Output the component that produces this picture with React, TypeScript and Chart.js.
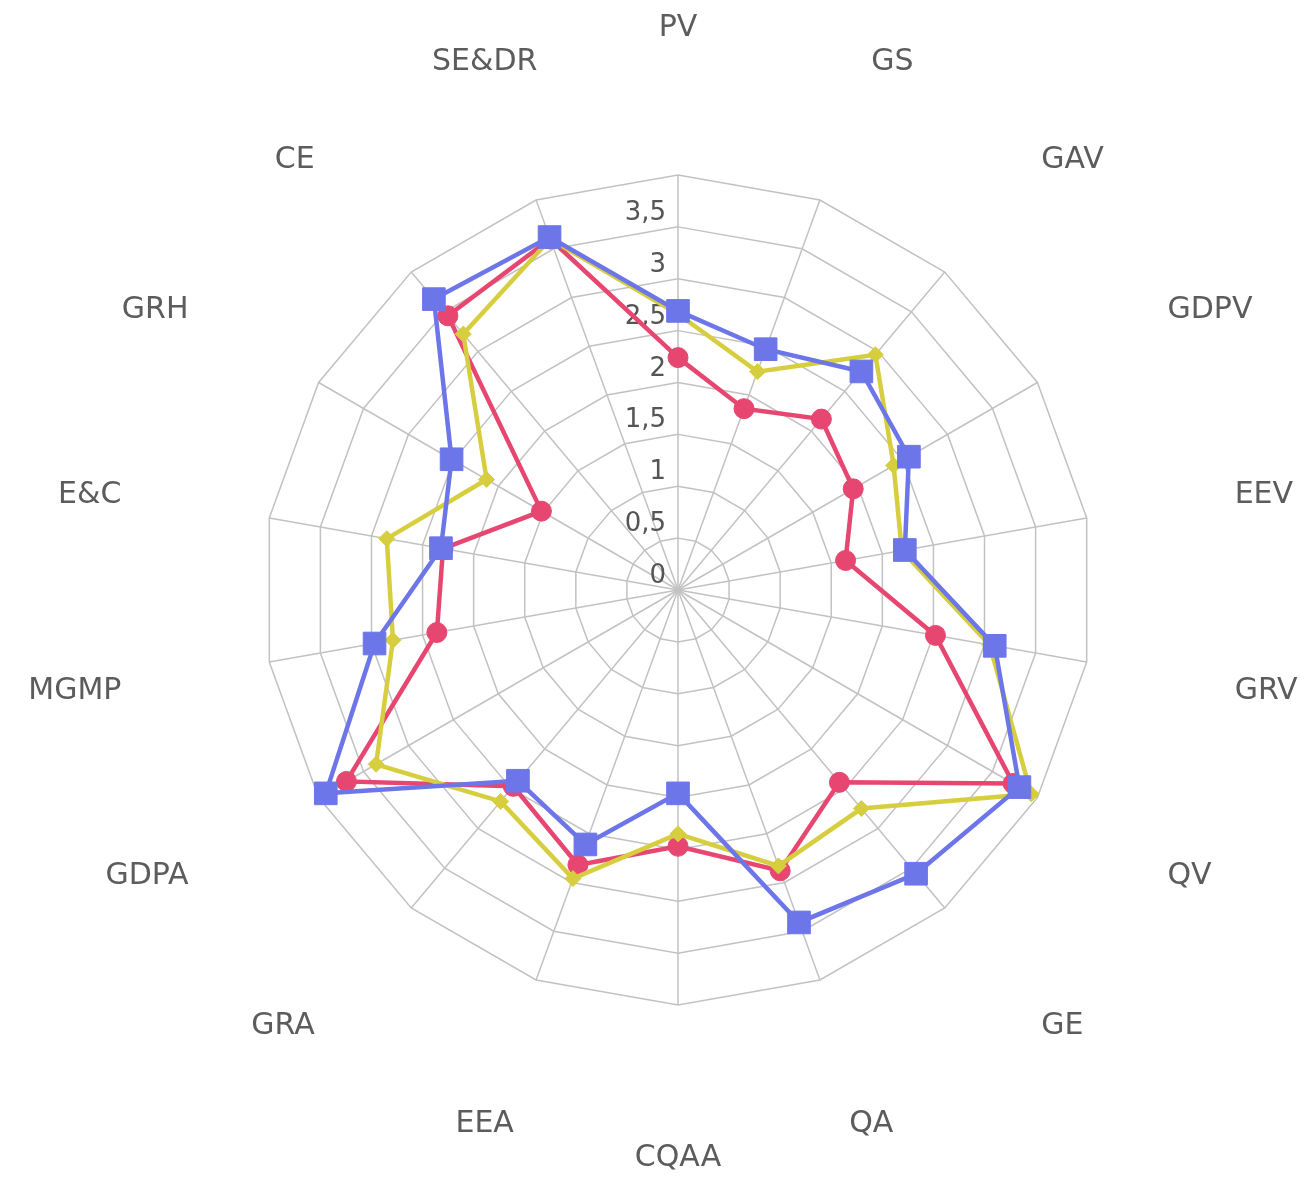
import React, { useEffect, useRef } from 'react';
import { Chart, registerables } from 'chart.js';

Chart.register(...registerables);

const categories = ['PV', 'GS', 'GAV', 'GDPV', 'EEV', 'GRV', 'QV', 'GE', 'QA', 'CQAA', 'EEA', 'GRA', 'GDPA', 'MGMP', 'E&C', 'GRH', 'CE', 'SE&DR'];

const seriesRed = [2.24, 1.86, 2.15, 1.95, 1.64, 2.52, 3.73, 2.42, 2.88, 2.47, 2.82, 2.47, 3.69, 2.36, 2.3, 1.52, 3.45, 3.6];
const seriesYellow = [2.66, 2.24, 2.96, 2.4, 2.19, 3.05, 3.93, 2.75, 2.83, 2.35, 2.96, 2.66, 3.36, 2.79, 2.85, 2.13, 3.22, 3.6];
const seriesBlue = [2.69, 2.47, 2.75, 2.57, 2.22, 3.1, 3.8, 3.57, 3.41, 1.96, 2.61, 2.4, 3.92, 2.97, 2.32, 2.52, 3.66, 3.62];

const tickValues = [0, 0.5, 1, 1.5, 2, 2.5, 3, 3.5];
const tickLabels = ['0', '0,5', '1', '1,5', '2', '2,5', '3', '3,5'];

const RED = '#e6466f';
const YELLOW = '#d6ce3e';
const BLUE = '#6d76e8';

const labelsPlugin = {
  id: 'customRadarLabels',
  beforeDatasetsDraw(chart: any) {
    const scale = chart.scales.r;
    const ctx = chart.ctx;
    ctx.save();
    // value ticks, right-aligned left of the vertical axis
    ctx.font = '26px "DejaVu Sans"';
    ctx.fillStyle = '#555555';
    ctx.textAlign = 'right';
    ctx.textBaseline = 'alphabetic';
    tickValues.forEach((v, i) => {
      const d = scale.getDistanceFromCenterForValue(v);
      ctx.fillText(tickLabels[i], scale.xCenter - 12, scale.yCenter - d - 7);
    });
    // category labels
    ctx.font = '30px "DejaVu Sans"';
    ctx.fillStyle = '#5c5c5c';
    const n = categories.length;
    const R = scale.drawingArea * 1.362;
    const halfH = 11;
    categories.forEach((c, i) => {
      const deg = (i * 360) / n;
      let align = 'center';
      if (deg > 19.9 && deg < 159.9) align = 'left';
      else if (deg > 200.1 && deg < 339.9) align = 'right';
      ctx.textAlign = align;
      const p = scale.getPointPosition(i, R);
      ctx.fillText(c, p.x, p.y + halfH);
    });
    ctx.restore();
  },
};

export default function App() {
  const canvasRef = useRef<HTMLCanvasElement | null>(null);

  useEffect(() => {
    if (!canvasRef.current) return;
    const chart = new Chart(canvasRef.current, {
      type: 'radar',
      data: {
        labels: categories,
        datasets: [
          {
            label: 'Red',
            data: seriesRed,
            borderColor: RED,
            backgroundColor: RED,
            pointBackgroundColor: RED,
            pointBorderColor: RED,
            pointStyle: 'circle',
            pointRadius: 10,
            pointBorderWidth: 1,
            borderWidth: 4.5,
            fill: false,
            order: 3,
          },
          {
            label: 'Yellow',
            data: seriesYellow,
            borderColor: YELLOW,
            backgroundColor: YELLOW,
            pointBackgroundColor: YELLOW,
            pointBorderColor: YELLOW,
            pointStyle: 'rectRot',
            pointRadius: 8,
            pointBorderWidth: 1,
            borderWidth: 4.5,
            fill: false,
            order: 2,
          },
          {
            label: 'Blue',
            data: seriesBlue,
            borderColor: BLUE,
            backgroundColor: BLUE,
            pointBackgroundColor: BLUE,
            pointBorderColor: BLUE,
            pointStyle: 'rect',
            pointRadius: 16,
            pointBorderWidth: 1,
            borderWidth: 4.5,
            fill: false,
            order: 1,
          },
        ],
      },
      options: {
        animation: false,
        responsive: true,
        maintainAspectRatio: false,
        layout: { padding: { left: 255, right: 206, top: 167, bottom: 169 } },
        plugins: {
          legend: { display: false },
          tooltip: { enabled: false },
        },
        elements: { line: { tension: 0 } },
        scales: {
          r: {
            min: 0,
            max: 4,
            beginAtZero: true,
            ticks: { display: false, stepSize: 0.5 },
            grid: { color: '#c2c2c2', lineWidth: 1.5, circular: false },
            angleLines: { color: '#c2c2c2', lineWidth: 1.5 },
            pointLabels: { display: false },
          },
        },
      },
      plugins: [labelsPlugin],
    });
    return () => chart.destroy();
  }, []);

  return (
    <div style={{ width: '1291px', height: '1166px', position: 'relative' }}>
      <canvas ref={canvasRef} />
    </div>
  );
}
